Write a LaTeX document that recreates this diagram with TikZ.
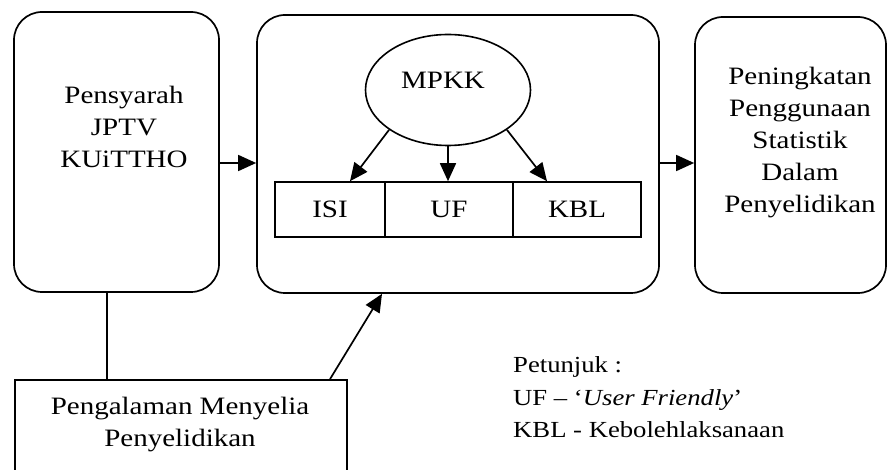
\documentclass[tikz,border=0pt]{standalone}
\usepackage{fontspec}
\setmainfont[FakeStretch=1.16]{Liberation Serif}
\usetikzlibrary{shapes.geometric,arrows.meta,calc}
\tikzset{
  rbox/.style={draw, line width=1.7pt, rounded corners=28pt, inner sep=0pt},
  sbox/.style={draw, line width=1.7pt, inner sep=0pt},
  cell/.style={draw, line width=1.6pt, inner sep=0pt, minimum height=55pt},
  txt/.style={align=center, inner sep=0pt, font=\fontsize{25}{32}\selectfont},
  legend/.style={anchor=base west, inner sep=0pt},
  arr/.style={line width=1.7pt, -{Triangle[length=18pt,width=16pt]}},
  ln/.style={line width=1.5pt}
}
\begin{document}
\begin{tikzpicture}[x=1pt,y=-1pt, font=\fontsize{23}{32}\selectfont]
\useasboundingbox (0,0) rectangle (887,470);
\clip (0,0) rectangle (887,470);
% main boxes
\node[rbox, minimum width=205pt, minimum height=280pt] (L) at (116.5,152) {};
\node[rbox, minimum width=402pt, minimum height=278pt] (M) at (458,154) {};
\node[rbox, minimum width=191pt, minimum height=276pt] (R) at (790.5,155) {};
\node[sbox, minimum width=332pt, minimum height=140pt] (B) at (181,450) {};
% texts of boxes
\node[txt] (Lt) at (124,127) {Pensyarah\\JPTV\\KUiTTHO};
\node[txt] (Rt) at (800,143) {Peningkatan\\Penggunaan\\Statistik\\Dalam\\Penyelidikan};
\node[txt] (Bt) at (180,425) {Pengalaman Menyelia\\Penyelidikan};
% inner parts
\node[draw, line width=1.6pt, ellipse, minimum width=165pt, minimum height=111pt, inner sep=0pt] (E) at (448,90) {};
\node[txt] (Et) at (443,80) {MPKK};
\node[cell, minimum width=110pt, font=\fontsize{25}{32}\selectfont] (ISI) at (330,209.5) {ISI};
\node[cell, minimum width=128pt, font=\fontsize{25}{32}\selectfont] (UF) at (449,209.5) {UF};
\node[cell, minimum width=128pt, font=\fontsize{25}{32}\selectfont] (KBL) at (577,209.5) {KBL};
% arrows inside
\draw[arr] (E.south west) -- ($(ISI.north)+(20,0)$);
\draw[arr] (E.south) -- (E.south |- UF.north);
\draw[arr] (E.south east) -- ($(KBL.north)+(-30,0)$);
% arrows between boxes
\draw[arr] (L.east |- 0,163) -- (M.west |- 0,163);
\draw[arr] (M.east |- 0,163) -- (R.west |- 0,163);
\draw[ln] (L.south -| 107,0) -- (B.north -| 107,0);
\draw[arr] (B.north -| 330,0) -- (M.south -| 382,0);
% legend
\node[legend] (P1) at (513,373) {Petunjuk :};
\node[legend] (P2) at (513,406) {UF -- `\textit{User Friendly}'};
\node[legend] (P3) at (513,438) {KBL - Kebolehlaksanaan};
\end{tikzpicture}
\end{document}
